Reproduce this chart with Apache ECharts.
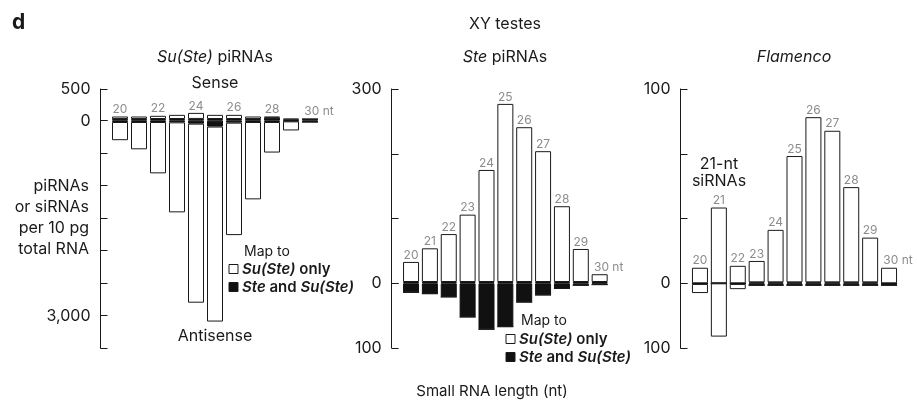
<!DOCTYPE html>
<html>
<head>
<meta charset="utf-8">
<script src="https://cdn.jsdelivr.net/npm/echarts@6/dist/echarts.min.js"></script>
<style>
html, body { margin: 0; padding: 0; background: #fff; }
#chart { width: 917px; height: 404px; }
</style>
</head>
<body>
<div id="chart"></div>
<script>
// small RNA lengths (nt)
var lengths = ['20', '21', '22', '23', '24', '25', '26', '27', '28', '29', '30'];

// Su(Ste) piRNAs, per 10 pg total RNA
var suSenseBoth = [26, 26, 27, 27, 28, 27, 27, 26, 45, 15, 26];
var suSenseOnly = [40, 40, 50, 65, 95, 65, 65, 40, 21, 20, 0];
var suAntiBoth = [20, 20, 20, 25, 45, 90, 30, 20, 20, 10, 20];
var suAntiOnly = [280, 420, 790, 1385, 2755, 3000, 1730, 1190, 470, 140, 0];
var suLenLabels = ['20', '', '22', '', '24', '', '26', '', '28', '', '30 nt'];

// Ste piRNAs
var steSenseBoth = [2, 2, 2, 2, 2, 2, 2, 2, 2, 2, 2];
var steSenseOnly = [31, 52, 74, 104, 173, 275, 239, 202, 117, 51, 12];
var steAntiBoth = [14, 16, 21, 52, 71, 67, 29, 18, 8, 3, 2];
var steAntiOnly = [0, 0, 0, 0, 0, 0, 0, 0, 0, 0, 0];
var steLenLabels = ['20', '21', '22', '23', '24', '25', '26', '27', '28', '29', '30 nt'];

// Flamenco
var flamSenseBoth = [0, 0, 0, 0.5, 0.5, 0.5, 0.5, 0.5, 0.5, 0.5, 0];
var flamSenseOnly = [8, 39, 9, 11, 27, 65, 85, 78, 49, 23, 8];
var flamAntiBoth = [1, 0, 1, 3, 3, 3, 3, 3, 3, 3, 3];
var flamAntiOnly = [14, 82, 8, 0, 0, 0, 0, 0, 0, 0, 0];
var flamLenLabels = ['20', '21', '22', '23', '24', '25', '26', '27', '28', '29', '30 nt'];

// tick labels
var suUpTicks = [500, 0], suUpText = ['500', '0'];
var suDownTicks = [3000], suDownText = ['3,000'];
var steUpTicks = [300, 0], steUpText = ['300', '0'];
var steDownTicks = [100], steDownText = ['100'];
var flamUpTicks = [100, 0], flamUpText = ['100', '0'];
var flamDownTicks = [100], flamDownText = ['100'];

var FONT = 'Inter, "Noto Sans", sans-serif';
var INK = '#1a1a1a';

var myChart = echarts.init(document.getElementById('chart'));

function tickFmt(vals, texts) {
    return function (v) {
        for (var i = 0; i < vals.length; i++) {
            if (Math.abs(vals[i] - v) < 1e-6) return texts[i];
        }
        return '';
    };
}

function yAx(gi, max, interval, inverse, vals, texts) {
    return {
        type: 'value', gridIndex: gi, min: 0, max: max, interval: interval,
        inverse: inverse, offset: 10,
        axisLine: { show: true, lineStyle: { color: INK, width: 1 } },
        axisTick: { show: true, inside: true, length: 7, lineStyle: { color: INK } },
        splitLine: { show: false },
        axisLabel: {
            show: true, showMinLabel: true, showMaxLabel: true,
            color: INK, fontSize: 16, fontFamily: FONT, margin: 10,
            formatter: tickFmt(vals, texts)
        }
    };
}

function xAx(gi) {
    return { type: 'category', gridIndex: gi, data: lengths, show: false };
}

var whiteBar = { color: '#fff', borderColor: INK, borderWidth: 1 };
var blackBar = { color: '#111', borderColor: '#111', borderWidth: 1 };

function panelSeries(g, senseBoth, senseOnly, antiBoth, antiOnly, lenLabels) {
    var top = senseOnly.map(function (v, i) {
        return i === lengths.length - 1 ? { value: v, label: { offset: [9, 0] } } : v;
    });
    return [
        { type: 'bar', xAxisIndex: g, yAxisIndex: g, stack: 's' + g, barWidth: 16,
          data: senseBoth, itemStyle: blackBar, silent: true },
        { type: 'bar', xAxisIndex: g, yAxisIndex: g, stack: 's' + g, barWidth: 16,
          data: top, itemStyle: whiteBar, silent: true,
          label: {
              show: true, position: 'top', distance: 1, color: '#8c8c8c',
              fontSize: 12, fontFamily: FONT,
              formatter: function (p) { return lenLabels[p.dataIndex]; }
          } },
        { type: 'bar', xAxisIndex: g + 1, yAxisIndex: g + 1, stack: 'a' + g, barWidth: 16,
          data: antiBoth, itemStyle: blackBar, silent: true },
        { type: 'bar', xAxisIndex: g + 1, yAxisIndex: g + 1, stack: 'a' + g, barWidth: 16,
          data: antiOnly, itemStyle: whiteBar, silent: true }
    ];
}

function txt(s, x, y, opt) {
    opt = opt || {};
    return {
        type: 'text', x: x, y: y, silent: true,
        style: {
            text: s, fill: INK, fontFamily: FONT,
            fontSize: opt.size || 16, fontWeight: opt.weight || 'normal',
            align: opt.align || 'center', verticalAlign: 'middle',
            lineHeight: opt.lh,
            rich: {
                i: { fontStyle: 'italic', fontSize: opt.size || 16, fontFamily: FONT,
                     fontWeight: opt.weight || 'normal', fill: INK }
            }
        }
    };
}

function box(x, y, fill) {
    return { type: 'rect', silent: true, shape: { x: x, y: y, width: 9, height: 9 },
             style: { fill: fill, stroke: INK, lineWidth: 1 } };
}

var option = {
    animation: false,
    backgroundColor: '#fff',
    grid: [
        { left: 110.5, top: 89, width: 209, height: 31.7 },
        { left: 110.5, top: 120.7, width: 209, height: 227.5 },
        { left: 401.6, top: 89, width: 207.5, height: 194.3 },
        { left: 401.6, top: 283.3, width: 207.5, height: 64.7 },
        { left: 690.5, top: 89, width: 208, height: 194.3 },
        { left: 690.5, top: 283.3, width: 208, height: 65 }
    ],
    xAxis: [xAx(0), xAx(1), xAx(2), xAx(3), xAx(4), xAx(5)],
    yAxis: [
        yAx(0, 500, 500, false, suUpTicks, suUpText),
        yAx(1, 3500, 500, true, suDownTicks, suDownText),
        yAx(2, 300, 100, false, steUpTicks, steUpText),
        yAx(3, 100, 100, true, steDownTicks, steDownText),
        yAx(4, 100, 100 / 3, false, flamUpTicks, flamUpText),
        yAx(5, 100, 100, true, flamDownTicks, flamDownText)
    ],
    series: []
        .concat(panelSeries(0, suSenseBoth, suSenseOnly, suAntiBoth, suAntiOnly, suLenLabels))
        .concat(panelSeries(2, steSenseBoth, steSenseOnly, steAntiBoth, steAntiOnly, steLenLabels))
        .concat(panelSeries(4, flamSenseBoth, flamSenseOnly, flamAntiBoth, flamAntiOnly, flamLenLabels)),
    graphic: [
        txt('d', 12, 23, { size: 21, weight: 'bold', align: 'left' }),
        txt('XY testes', 505, 24),
        txt('{i|Su(Ste)} piRNAs', 215, 57),
        txt('{i|Ste} piRNAs', 505, 57),
        txt('{i|Flamenco}', 794, 57),
        txt('Sense', 215, 83),
        txt('Antisense', 215, 336),
        txt('piRNAs\nor siRNAs\nper 10 pg\ntotal RNA', 89, 218, { align: 'right', lh: 21 }),
        txt('21-nt\nsiRNAs', 719, 172.5, { lh: 17 }),
        txt('Small RNA length (nt)', 492, 391, { size: 15 }),
        // legend, Su(Ste) panel
        txt('Map to', 244, 252, { size: 14, align: 'left' }),
        box(229, 264.5, '#fff'),
        txt('{i|Su(Ste)} only', 242, 269, { size: 15, weight: 600, align: 'left' }),
        box(229, 282.5, '#111'),
        txt('{i|Ste} and {i|Su(Ste)}', 242, 287, { size: 15, weight: 600, align: 'left' }),
        // legend, Ste panel
        txt('Map to', 521, 321, { size: 14, align: 'left' }),
        box(506, 334.5, '#fff'),
        txt('{i|Su(Ste)} only', 519, 339, { size: 15, weight: 600, align: 'left' }),
        box(506, 352.5, '#111'),
        txt('{i|Ste} and {i|Su(Ste)}', 519, 357, { size: 15, weight: 600, align: 'left' })
    ]
};
myChart.setOption(option);
</script>
</body>
</html>
